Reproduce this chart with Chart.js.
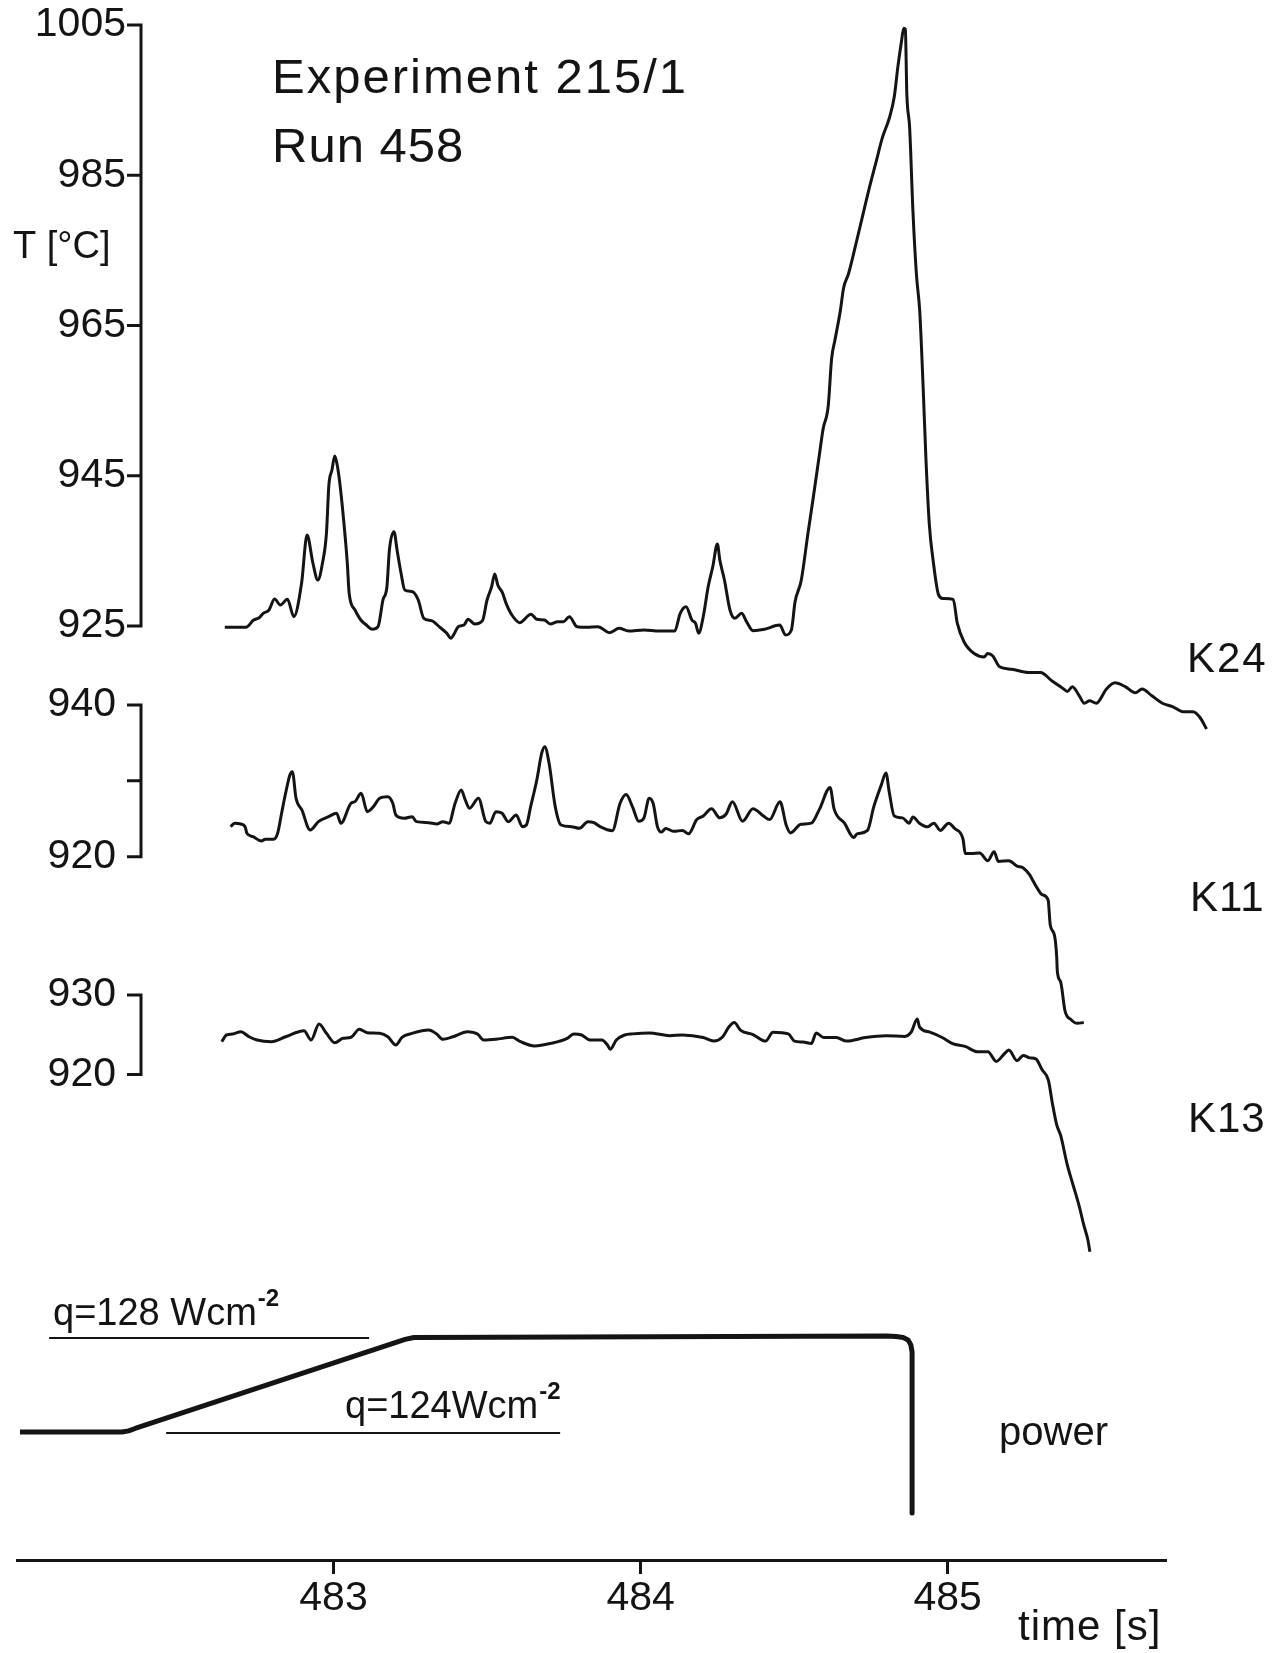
<!DOCTYPE html>
<html>
<head>
<meta charset="utf-8">
<title>Experiment 215/1 – Run 458</title>
<style>
  html, body { margin: 0; padding: 0; background: #ffffff; }
  #wrap { position: relative; width: 1272px; height: 1653px; }
  canvas { display: block; }
</style>
<script src="https://cdn.jsdelivr.net/npm/chart.js@4.4.1/dist/chart.umd.min.js"></script>
</head>
<body>
<div id="wrap"><canvas id="chart" width="1272" height="1653"></canvas></div>
<script>
// ---------------- data ----------------
// time axis ticks [s]
const timeTicks = [483, 484, 485];

// thermocouple K24 [°C]
const k24Ticks = [925, 945, 965, 985, 1005];
const k24Labels = ['925', '945', '965', '985', '1005'];
const k24Time = [
  482.646, 482.715, 482.740, 482.758, 482.771, 482.790, 482.808, 482.827, 482.850, 482.871,
  482.896, 482.914, 482.933, 482.949, 482.964, 482.977, 482.985, 482.995, 483.004, 483.011,
  483.020, 483.033, 483.045, 483.051, 483.070, 483.089, 483.107, 483.126, 483.145, 483.161,
  483.174, 483.182, 483.197, 483.207, 483.220, 483.232, 483.257, 483.276, 483.294, 483.319,
  483.344, 483.369, 483.382, 483.394, 483.406, 483.425, 483.438, 483.460, 483.485, 483.500,
  483.515, 483.525, 483.535, 483.550, 483.562, 483.581, 483.606, 483.643, 483.662, 483.687,
  483.706, 483.730, 483.749, 483.768, 483.793, 483.824, 483.861, 483.899, 483.930, 483.961,
  484.011, 484.061, 484.111, 484.129, 484.148, 484.167, 484.179, 484.189, 484.204, 484.220,
  484.235, 484.250, 484.258, 484.273, 484.291, 484.307, 484.329, 484.345, 484.366, 484.403,
  484.453, 484.472, 484.491, 484.503, 484.523, 484.545, 484.561, 484.583, 484.594, 484.611,
  484.622, 484.633, 484.650, 484.661, 484.677, 484.700, 484.722, 484.744, 484.766, 484.788,
  484.810, 484.826, 484.838, 484.849, 484.857, 484.862, 484.867, 484.876, 484.887, 484.898,
  484.909, 484.920, 484.929, 484.940, 484.953, 484.970, 484.984, 485.018, 485.031, 485.053,
  485.086, 485.119, 485.130, 485.147, 485.169, 485.208, 485.263, 485.302, 485.340, 485.374,
  485.390, 485.406, 485.429, 485.445, 485.462, 485.484, 485.517, 485.545, 485.578, 485.611,
  485.633, 485.666, 485.699, 485.732, 485.766, 485.799, 485.821, 485.843
];
const k24Temp = [
  924.83, 924.83, 925.80, 926.10, 926.69, 927.13, 928.59, 927.80, 928.55, 926.24,
  930.68, 937.11, 933.35, 931.12, 933.35, 937.34, 943.77, 945.76, 947.63, 946.66,
  944.21, 939.11, 933.35, 929.35, 927.13, 925.80, 925.13, 924.56, 924.91, 928.46,
  930.23, 935.12, 937.55, 935.12, 932.01, 929.79, 929.57, 928.46, 926.02, 925.71,
  924.91, 924.03, 923.36, 924.03, 924.91, 925.13, 925.89, 925.27, 925.71, 928.46,
  930.23, 931.92, 930.46, 929.43, 928.02, 926.46, 925.44, 926.56, 925.89, 925.80,
  925.27, 925.57, 925.57, 926.24, 924.91, 924.83, 924.91, 924.11, 924.69, 924.33,
  924.47, 924.33, 924.33, 926.69, 927.57, 925.80, 925.36, 924.03, 926.24, 930.23,
  932.89, 935.91, 933.78, 931.12, 927.13, 926.02, 926.69, 925.57, 924.37, 924.56,
  925.13, 923.80, 924.47, 928.23, 931.06, 937.34, 941.75, 948.03, 951.17, 954.31,
  960.58, 963.10, 966.86, 970.00, 971.89, 975.66, 979.43, 983.19, 986.65, 990.10,
  992.62, 995.45, 999.53, 1002.67, 1004.56, 1004.43, 995.76, 991.37, 980.05, 971.89,
  966.86, 956.81, 947.39, 938.60, 933.57, 929.18, 928.67, 928.55, 925.41, 922.90,
  921.33, 920.89, 921.33, 921.01, 919.57, 919.25, 918.81, 918.81, 917.68, 916.73,
  916.29, 916.93, 915.67, 914.72, 915.04, 914.72, 916.61, 917.43, 916.93, 916.11,
  916.61, 915.67, 914.72, 914.28, 913.59, 913.59, 912.85, 911.28
];

// thermocouple K11 [°C]
const k11Ticks = [920, 930, 940];
const k11Labels = ['920', '', '940'];
const k11Time = [
  482.665, 482.678, 482.698, 482.712, 482.718, 482.738, 482.765, 482.778, 482.805, 482.818,
  482.831, 482.844, 482.858, 482.866, 482.878, 482.897, 482.924, 482.951, 482.984, 483.010,
  483.024, 483.057, 483.070, 483.090, 483.110, 483.130, 483.150, 483.177, 483.193, 483.203,
  483.230, 483.256, 483.270, 483.310, 483.336, 483.356, 483.376, 483.396, 483.416, 483.429,
  483.443, 483.472, 483.496, 483.509, 483.529, 483.549, 483.569, 483.595, 483.615, 483.628,
  483.642, 483.662, 483.678, 483.688, 483.702, 483.722, 483.741, 483.775, 483.801, 483.828,
  483.848, 483.868, 483.908, 483.933, 483.953, 483.974, 483.994, 484.011, 484.028, 484.041,
  484.055, 484.068, 484.082, 484.109, 484.136, 484.156, 484.183, 484.204, 484.231, 484.258,
  484.278, 484.299, 484.332, 484.366, 484.400, 484.420, 484.454, 484.474, 484.488, 484.522,
  484.556, 484.583, 484.617, 484.630, 484.664, 484.694, 484.705, 484.739, 484.759, 484.783,
  484.799, 484.810, 484.826, 484.853, 484.874, 484.887, 484.908, 484.935, 484.955, 484.976,
  485.003, 485.023, 485.050, 485.057, 485.077, 485.104, 485.131, 485.151, 485.165, 485.199,
  485.226, 485.246, 485.267, 485.280, 485.294, 485.307, 485.327, 485.334, 485.348, 485.355,
  485.357, 485.368, 485.382, 485.402, 485.422, 485.443
];
const k11Temp = [
  923.96, 924.41, 924.31, 923.96, 923.09, 922.64, 922.07, 922.30, 922.30, 923.09,
  925.73, 928.36, 930.78, 931.21, 927.70, 926.16, 923.52, 924.62, 925.28, 925.73,
  924.41, 927.05, 927.26, 928.36, 925.94, 926.60, 927.70, 927.92, 927.05, 925.50,
  925.07, 925.28, 924.62, 924.49, 924.31, 924.62, 924.41, 927.05, 928.80, 927.48,
  926.39, 927.70, 924.62, 924.41, 925.94, 925.73, 924.62, 925.50, 923.96, 924.18,
  926.60, 930.12, 933.64, 934.51, 932.32, 926.60, 924.18, 923.96, 923.75, 924.62,
  924.49, 923.96, 923.43, 927.01, 928.19, 926.54, 924.66, 925.12, 927.72, 927.01,
  923.94, 923.25, 923.71, 923.34, 923.47, 923.01, 924.89, 925.36, 926.31, 925.12,
  925.59, 927.24, 924.66, 926.31, 925.36, 924.89, 927.24, 924.18, 923.14, 924.27,
  924.42, 926.31, 929.13, 926.31, 924.42, 922.53, 923.01, 923.47, 926.54, 929.37,
  931.02, 928.42, 925.36, 925.12, 924.42, 925.22, 924.42, 923.94, 924.42, 923.47,
  924.42, 923.71, 922.30, 920.41, 920.41, 920.50, 919.47, 920.65, 919.38, 919.47,
  918.76, 918.52, 917.59, 916.65, 915.70, 915.00, 914.29, 910.99, 909.58, 906.75,
  904.87, 903.46, 899.68, 898.51, 898.03, 898.13
];

// thermocouple K13 [°C]
const k13Ticks = [920, 930];
const k13Labels = ['920', '930'];
const k13Time = [
  482.636, 482.652, 482.672, 482.698, 482.725, 482.751, 482.798, 482.844, 482.904, 482.927,
  482.953, 482.977, 483.004, 483.031, 483.057, 483.084, 483.110, 483.150, 483.177, 483.203,
  483.223, 483.256, 483.310, 483.336, 483.356, 483.389, 483.436, 483.469, 483.489, 483.529,
  483.582, 483.609, 483.655, 483.708, 483.761, 483.782, 483.808, 483.835, 483.874, 483.892,
  483.901, 483.921, 483.948, 483.974, 484.028, 484.095, 484.136, 484.204, 484.238, 484.265,
  484.288, 484.305, 484.326, 484.366, 484.407, 484.431, 484.481, 484.501, 484.529, 484.556,
  484.572, 484.596, 484.637, 484.671, 484.732, 484.799, 484.860, 484.881, 484.901, 484.908,
  484.942, 484.982, 485.016, 485.057, 485.097, 485.131, 485.158, 485.185, 485.199, 485.226,
  485.246, 485.267, 485.287, 485.307, 485.328, 485.341, 485.355, 485.368, 485.389, 485.409,
  485.429, 485.443, 485.456, 485.463
];
const k13Temp = [
  924.13, 924.97, 925.09, 925.38, 924.75, 924.34, 924.13, 924.75, 925.51, 924.34,
  926.35, 925.18, 924.00, 924.55, 924.68, 925.69, 925.26, 925.18, 924.75, 923.71,
  924.68, 925.18, 925.60, 925.09, 924.43, 924.75, 925.38, 925.09, 924.34, 924.43,
  924.68, 924.13, 923.59, 923.92, 924.55, 925.09, 924.97, 924.34, 924.34, 923.71,
  923.17, 924.34, 924.97, 925.11, 925.23, 924.88, 924.97, 924.65, 924.20, 924.65,
  926.00, 926.54, 925.55, 925.02, 924.20, 925.33, 925.11, 924.20, 924.08, 923.89,
  925.23, 924.65, 924.65, 924.20, 924.65, 924.88, 924.79, 925.33, 926.99, 926.00,
  925.33, 924.65, 923.89, 923.53, 922.86, 922.86, 921.65, 922.63, 923.08, 921.74,
  922.40, 922.09, 921.96, 920.62, 919.26, 916.34, 913.65, 912.30, 908.70, 906.01,
  903.32, 901.07, 899.27, 897.70
];

// heating power [W cm^-2]
const powerTime = [481.979, 482.311, 482.333, 482.354, 483.211, 483.233, 483.262, 484.800, 484.832,
                   484.855, 484.871, 484.880, 484.884, 484.884];
const powerQ    = [124.04, 124.04, 124.09, 124.19, 127.85, 127.94, 128.02, 128.08, 128.06,
                   128.02, 127.92, 127.71, 127.41, 120.63];
const q128Time = [482.074, 483.116];
const q128Q    = [128, 128];
const q124Time = [482.455, 483.738];
const q124Q    = [124, 124];

// ---------------- layout / style ----------------
const W = 1272, H = 1653;
const AREA = { left: 0, right: W, top: 10, bottom: 1560 };
const INK = '#141414';
const TEXT_FONT = "'Liberation Sans', Arial, sans-serif";
const TICK_FONT = "'Liberation Sans', Arial, sans-serif";

// map two known (value, pixel) anchors to an axis range over the chart area
function vRange(v1, p1, v2, p2) {
  const k = (v1 - v2) / (p2 - p1);
  return { min: v2 - (AREA.bottom - p2) * k, max: v1 + (p1 - AREA.top) * k };
}
function hRange(v1, p1, v2, p2) {
  const k = (v2 - v1) / (p2 - p1);
  return { min: v1 - (p1 - AREA.left) * k, max: v2 + (AREA.right - p2) * k, k };
}
const X_R = hRange(483, 333.5, 485, 947.7);
const tAt = px => 483 + (px - 333.5) * X_R.k;   // time value at a horizontal page position
const AXIS_AT = tAt(141);            // where the temperature axes stand
const LABEL_AT_K24 = tAt(126);       // right edge of the K24 tick labels
const LABEL_AT_K = tAt(116);         // right edge of the K11 / K13 tick labels
const XLINE_FROM = tAt(16), XLINE_TO = tAt(1167);   // extent of the time axis line
const R_K24 = vRange(1005, 25, 925, 626);
const R_K11 = vRange(940, 705, 920, 856.7);
const R_K13 = vRange(930, 995, 920, 1074.5);
const R_P   = vRange(128, 1338, 124, 1433);

const pts = (xs, ys) => xs.map((x, i) => ({ x, y: ys[i] }));

function tempAxis(range, ticks, labels, labelAt) {
  return {
    type: 'linear',
    position: { x: labelAt },
    min: range.min, max: range.max,
    afterBuildTicks: s => { s.ticks = ticks.map(v => ({ value: v })); },
    afterFit: s => { s.paddingTop = 0; s.paddingBottom = 0; },
    border: { display: false },
    grid: { display: false },
    ticks: {
      color: INK, padding: 0, autoSkip: false,
      font: { family: TICK_FONT, size: 41, lineHeight: 1.2 },
      callback: (v, i) => labels[i]
    }
  };
}

function line(xs, ys, axis, width, smooth) {
  return {
    data: pts(xs, ys), yAxisID: axis, borderColor: INK, borderWidth: width,
    pointRadius: 0, clip: false, fill: false,
    tension: smooth ? 0.4 : 0,
    cubicInterpolationMode: smooth ? 'monotone' : 'default',
    borderJoinStyle: 'round', borderCapStyle: 'butt'
  };
}

// annotation texts (real text drawn on the canvas)
const TEXTS = [
  { text: 'Experiment 215/1', x: 272, y: 93,  size: 49, spacing: 2 },
  { text: 'Run 458',          x: 272, y: 162, size: 49, spacing: 1 },
  { text: 'T [°C]',           x: 13,  y: 258, size: 38, spacing: 0 },
  { text: 'K24',              x: 1187, y: 672, size: 42, spacing: 2 },
  { text: 'K11',              x: 1190, y: 911, size: 42, spacing: 1 },
  { text: 'K13',              x: 1188, y: 1132, size: 42, spacing: 1 },
  { text: 'power',            x: 999, y: 1445, size: 40, spacing: 0 },
  { text: 'time [s]',         x: 1018, y: 1640, size: 42, spacing: 1 },
  { text: 'q=128 Wcm',        x: 53,  y: 1325, size: 38, spacing: 0, sup: '-2' },
  { text: 'q=124Wcm',         x: 345, y: 1418, size: 38, spacing: 0, sup: '-2' }
];

const decorPlugin = {
  id: 'decor',
  afterDraw(chart) {
    const ctx = chart.ctx;
    const xs = chart.scales.x;
    const ax = xs.getPixelForValue(AXIS_AT);
    ctx.save();
    ctx.strokeStyle = INK;
    ctx.lineWidth = 3;
    ctx.lineCap = 'butt';
    // time axis line
    ctx.beginPath();
    ctx.moveTo(xs.getPixelForValue(XLINE_FROM), xs.top + 0.5);
    ctx.lineTo(xs.getPixelForValue(XLINE_TO), xs.top + 0.5);
    ctx.stroke();
    // temperature axes: line over the tick range + tick marks
    [['yK24', k24Ticks], ['yK11', k11Ticks], ['yK13', k13Ticks]].forEach(([id, t]) => {
      const s = chart.scales[id];
      ctx.beginPath();
      ctx.moveTo(ax, s.getPixelForValue(Math.max(...t)) - 1.5);
      ctx.lineTo(ax, s.getPixelForValue(Math.min(...t)) + 1.5);
      t.forEach(v => {
        const y = s.getPixelForValue(v);
        ctx.moveTo(ax, y);
        ctx.lineTo(ax - 14, y);
      });
      ctx.stroke();
    });
    // texts
    ctx.fillStyle = INK;
    ctx.textBaseline = 'alphabetic';
    ctx.textAlign = 'left';
    TEXTS.forEach(t => {
      ctx.font = `${t.size}px ${TEXT_FONT}`;
      ctx.letterSpacing = `${t.spacing}px`;
      ctx.fillText(t.text, t.x, t.y);
      if (t.sup) {
        const w = ctx.measureText(t.text).width;
        ctx.font = `bold ${Math.round(t.size * 0.62)}px ${TEXT_FONT}`;
        ctx.letterSpacing = '0px';
        ctx.fillText(t.sup, t.x + w + 1, t.y - t.size * 0.5);
      }
    });
    ctx.letterSpacing = '0px';
    ctx.restore();
  }
};

new Chart(document.getElementById('chart'), {
  type: 'line',
  data: {
    datasets: [
      line(k24Time, k24Temp, 'yK24', 3, true),
      line(k11Time, k11Temp, 'yK11', 3, true),
      line(k13Time, k13Temp, 'yK13', 3, true),
      line(powerTime, powerQ, 'yP', 5, false),
      line(q128Time, q128Q, 'yP', 2, false),
      line(q124Time, q124Q, 'yP', 2, false)
    ]
  },
  options: {
    responsive: false,
    animation: false,
    devicePixelRatio: 1,
    events: [],
    layout: { padding: { top: AREA.top, left: AREA.left, right: W - AREA.right, bottom: 0 } },
    plugins: { legend: { display: false }, tooltip: { enabled: false }, title: { display: false } },
    scales: {
      x: {
        type: 'linear', position: 'bottom',
        min: X_R.min, max: X_R.max,
        afterBuildTicks: s => { s.ticks = timeTicks.map(v => ({ value: v })); },
        afterFit: s => { s.height = H - AREA.bottom; },
        border: { display: false },
        grid: { drawOnChartArea: false, drawTicks: true, tickLength: 14, lineWidth: 3, color: INK },
        ticks: {
          color: INK, padding: 0, autoSkip: false, maxRotation: 0,
          font: { family: TICK_FONT, size: 41, lineHeight: 1.2 },
          callback: v => String(v)
        }
      },
      yK24: tempAxis(R_K24, k24Ticks, k24Labels, LABEL_AT_K24),
      yK11: tempAxis(R_K11, k11Ticks, k11Labels, LABEL_AT_K),
      yK13: tempAxis(R_K13, k13Ticks, k13Labels, LABEL_AT_K),
      yP: { type: 'linear', display: false, min: R_P.min, max: R_P.max }
    }
  },
  plugins: [decorPlugin]
});
</script>
</body>
</html>
